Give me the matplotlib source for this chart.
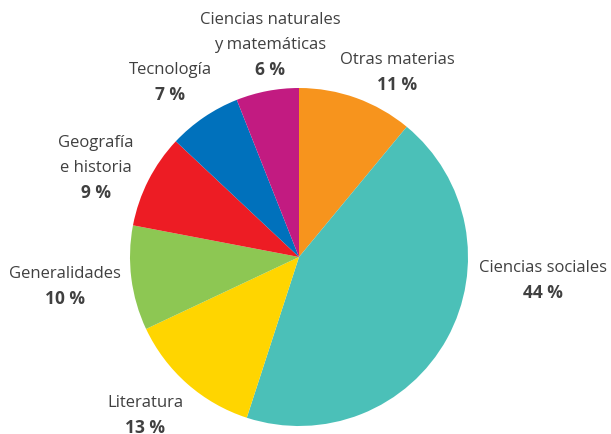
import matplotlib.pyplot as plt

materias = ["Otras materias", "Ciencias sociales", "Literatura", "Generalidades",
            "Geografía\ne historia", "Tecnología", "Ciencias naturales\ny matemáticas"]
porcentajes = [11, 44, 13, 10, 9, 7, 6]
colores = ["#F7941D", "#4BC0B8", "#FFD500", "#8DC753", "#ED1C24", "#0071BC", "#C21B81"]

# label anchor (x, y of the bold percentage line), in pixels from top-left
pos_etiquetas = [(397, 85), (543, 293), (145, 428), (65, 299), (96, 193), (170, 95), (270, 70)]

W, H = 611, 434
fig = plt.figure(figsize=(W / 100, H / 100), dpi=100)
ax = fig.add_axes([0, 0, 1, 1])

ax.pie(porcentajes, colors=colores, startangle=90, counterclock=False,
       center=(299, H - 257), radius=169, frame=True,
       wedgeprops=dict(linewidth=0))
ax.set_xlim(0, W)
ax.set_ylim(0, H)
ax.set_aspect("equal")
ax.axis("off")

gris = "#404040"
salto = 25
for nombre, p, (x, y) in zip(materias, porcentajes, pos_etiquetas):
    lineas = nombre.split("\n")
    for i, linea in enumerate(reversed(lineas)):
        ax.text(x, H - (y - salto * (i + 1)), linea, ha="center", va="center",
                fontsize=12, color=gris, family="Open Sans")
    ax.text(x, H - y, f"{p} %", ha="center", va="center",
            fontsize=12.5, fontweight="bold", color=gris, family="Open Sans")

fig.savefig("out.png", dpi=100)
